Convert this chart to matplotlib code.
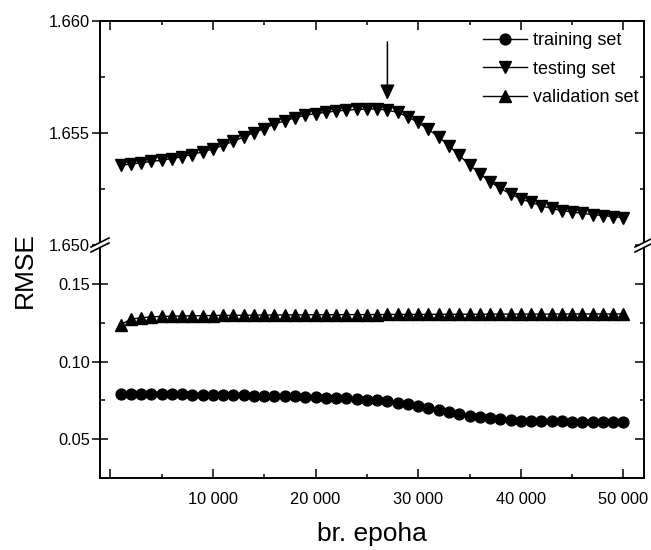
import matplotlib
matplotlib.use("Agg")
import matplotlib.pyplot as plt
from matplotlib.lines import Line2D
from matplotlib.patches import Polygon
import numpy as np

plt.rcParams['font.family'] = ['Liberation Sans', 'DejaVu Sans']

# ---------------- data ----------------
epochs = list(range(1000, 50001, 1000))

training = [0.0790, 0.0790, 0.0790, 0.0789, 0.0789, 0.0788, 0.0788, 0.0787, 0.0786, 0.0785,
            0.0784, 0.0783, 0.0782, 0.0781, 0.0780, 0.0778, 0.0777, 0.0775, 0.0773, 0.0771,
            0.0768, 0.0764, 0.0762, 0.0760, 0.0755, 0.0751, 0.0745, 0.0736, 0.0727, 0.0715,
            0.0702, 0.0689, 0.0676, 0.0663, 0.0652, 0.0642, 0.0635, 0.0629, 0.0624, 0.0620,
            0.0618, 0.0618, 0.0616, 0.0616, 0.0613, 0.0613, 0.0613, 0.0613, 0.0611, 0.0611]

testing = [1.65356, 1.65361, 1.65367, 1.65373, 1.65378, 1.65386, 1.65394, 1.65404, 1.65416, 1.65429,
           1.65445, 1.65463, 1.65482, 1.65502, 1.65520, 1.65540, 1.65554, 1.65568, 1.65579, 1.65587,
           1.65592, 1.65598, 1.65602, 1.65605, 1.65607, 1.65607, 1.65602, 1.65592, 1.65572, 1.65547,
           1.65516, 1.65482, 1.65443, 1.65400, 1.65358, 1.65318, 1.65283, 1.65253, 1.65228, 1.65206,
           1.65190, 1.65175, 1.65163, 1.65154, 1.65147, 1.65141, 1.65136, 1.65131, 1.65127, 1.65122]

validation = [0.1237, 0.1272, 0.1282, 0.1287, 0.1290, 0.1292, 0.1293, 0.1294, 0.1295, 0.1296,
              0.1297, 0.1297, 0.1298, 0.1298, 0.1299, 0.1299, 0.1300, 0.1300, 0.1300, 0.1301,
              0.1301, 0.1301, 0.1302, 0.1302, 0.1302, 0.1302, 0.1303, 0.1303, 0.1303, 0.1303,
              0.1303, 0.1304, 0.1304, 0.1304, 0.1304, 0.1304, 0.1305, 0.1305, 0.1305, 0.1305,
              0.1305, 0.1305, 0.1305, 0.1306, 0.1306, 0.1306, 0.1306, 0.1306, 0.1306, 0.1306]

labels = ['training set', 'testing set', 'validation set']
x_ticks = [0, 10000, 20000, 30000, 40000, 50000]
x_ticklabels = ['', '10 000', '20 000', '30 000', '40 000', '50 000']
upper_ticks = [1.650, 1.655, 1.660]
upper_ticklabels = ['1.650', '1.655', '1.660']
lower_ticks = [0.05, 0.10, 0.15]
lower_ticklabels = ['0.05', '0.10', '0.15']
arrow_epoch = 27000

# ---------------- layout ----------------
W, H = 651, 550
fig = plt.figure(figsize=(W / 100, H / 100), dpi=100)

L, R = 100, 644
T, BRK, B = 21, 245, 478

def fx(x):
    return x / W

def fy(y):
    return 1 - y / H

ax1 = fig.add_axes([fx(L), fy(BRK), fx(R) - fx(L), fy(T) - fy(BRK)])
ax2 = fig.add_axes([fx(L), fy(B), fx(R) - fx(L), fy(BRK) - fy(B)])

lw_sp = 1.4
ms_c, ms_t = 7.8, 8.8
p_test, = ax1.plot(epochs, testing, color='black', lw=1.0, marker='v', ms=ms_t, clip_on=False)
p_train, = ax2.plot(epochs, training, color='black', lw=1.0, marker='o', ms=ms_c, clip_on=False)
p_val, = ax2.plot(epochs, validation, color='black', lw=1.0, marker='^', ms=ms_t, clip_on=False)

for ax in (ax1, ax2):
    ax.set_xlim(-1000, 52000)
    ax.set_xticks(x_ticks)
    ax.set_xticks(list(range(5000, 50001, 10000)), minor=True)
    for s in ax.spines.values():
        s.set_linewidth(lw_sp)
    ax.tick_params(axis='y', which='major', direction='inout', length=11.5, width=1.1,
                   labelsize=11.8, pad=1.5, right=False)
    ax.tick_params(axis='y', which='minor', direction='in', length=3.6, width=1.1, right=False)
    ax.tick_params(axis='x', which='major', direction='in', length=6.5, width=1.1, labelsize=11.8, pad=10)
    ax.tick_params(axis='x', which='minor', direction='in', length=3.2, width=1.1)

ax1.set_ylim(1.650, 1.660)
ax1.set_yticks(upper_ticks)
ax1.set_yticklabels(upper_ticklabels)
ax1.set_yticks([1.6525, 1.6575], minor=True)
ax1.spines['bottom'].set_visible(False)
ax1.tick_params(axis='x', which='both', bottom=False, top=True, labelbottom=False)

ax2.set_ylim(0.025, 0.175)
ax2.set_yticks(lower_ticks)
ax2.set_yticklabels(lower_ticklabels)
ax2.set_yticks([0.075, 0.125], minor=True)
ax2.spines['top'].set_visible(False)
ax2.tick_params(axis='x', which='both', bottom=True, top=False)
ax2.set_xticklabels(x_ticklabels)

# right-side inward ticks
for ax, mj, mn in ((ax1, upper_ticks, [1.6525, 1.6575]), (ax2, lower_ticks, [0.075, 0.125])):
    tw = ax.twinx()
    tw.set_ylim(ax.get_ylim())
    tw.set_yticks(mj)
    tw.set_yticks(mn, minor=True)
    tw.tick_params(axis='y', which='major', direction='in', length=6.5, width=1.1, labelright=False)
    tw.tick_params(axis='y', which='minor', direction='in', length=3.0, width=1.1)
    for s in tw.spines.values():
        s.set_visible(False)

# arrow marking minimum-error point
ax1.annotate('', xy=(arrow_epoch, 1.65647), xytext=(arrow_epoch, 1.65907),
             arrowprops=dict(arrowstyle='-|>,head_length=0.47,head_width=0.22',
                             mutation_scale=20, color='black', lw=1.1,
                             shrinkA=0, shrinkB=0))

# axis labels
ax2.set_xlabel('br. epoha', fontsize=19, labelpad=11)
fig.text(fx(24.5), fy(270.5), 'RMSE', rotation=90, ha='center', va='center', fontsize=19)

# legend
leg = ax1.legend([p_train, p_test, p_val], labels, loc='upper left',
                 bbox_to_anchor=(fx(483), fy(32)), bbox_transform=fig.transFigure,
                 frameon=False, fontsize=13, handlelength=2.45, handletextpad=0.33,
                 labelspacing=0.64, borderpad=0, borderaxespad=0)

# axis break marks
def brk(xc, yc):
    a1 = [(xc - 9, yc + 2.0), (xc + 9, yc - 7.0)]
    a2 = [(xc - 9, yc + 7.0), (xc + 9, yc - 2.0)]
    poly = Polygon([(fx(a1[0][0]), fy(a1[0][1])), (fx(a1[1][0]), fy(a1[1][1])),
                    (fx(a2[1][0]), fy(a2[1][1])), (fx(a2[0][0]), fy(a2[0][1]))],
                   closed=True, facecolor='white', edgecolor='none',
                   transform=fig.transFigure, zorder=10)
    fig.add_artist(poly)
    for seg in (a1, a2):
        fig.add_artist(Line2D([fx(seg[0][0]), fx(seg[1][0])], [fy(seg[0][1]), fy(seg[1][1])],
                              color='black', lw=1.2, transform=fig.transFigure, zorder=11))

brk(L, BRK)
brk(R, BRK)

fig.savefig('out.png', dpi=100)
